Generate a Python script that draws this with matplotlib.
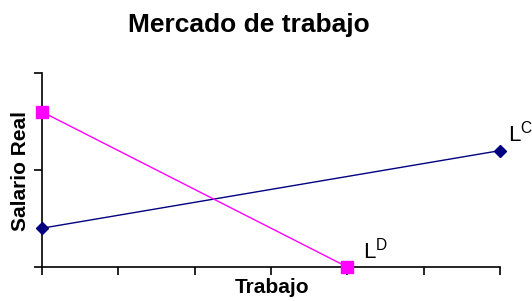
import matplotlib
matplotlib.use("Agg")
import matplotlib.pyplot as plt

plt.rcParams['font.family'] = ['Liberation Sans', 'DejaVu Sans']

oferta_x = [0, 6]
oferta_y = [2, 6]
demanda_x = [0, 4]
demanda_y = [8, 0]
x_ticks = [0, 1, 2, 3, 4, 5, 6]
y_ticks = [0, 5, 10]

fig = plt.figure(figsize=(5.32, 3.01), dpi=100)
ax = fig.add_axes([42/532, 1-267/301, (500-42)/532, (267-73)/301])

ax.plot(oferta_x, oferta_y, color='#000080', lw=1.0, marker='D', ms=6.5, clip_on=False, zorder=3)
ax.plot(demanda_x, demanda_y, color='#FF00FF', lw=1.0, marker='s', ms=8.5, clip_on=False, zorder=4)

ax.set_xlim(0, 6)
ax.set_ylim(0, 10)
ax.set_xticks(x_ticks)
ax.set_yticks(y_ticks)
ax.set_xticklabels([])
ax.set_yticklabels([])
ax.tick_params(direction='out', length=6, width=1.2, color='black')
for s in ['top', 'right']:
    ax.spines[s].set_visible(False)
for s in ['left', 'bottom']:
    ax.spines[s].set_linewidth(1.2)

ax.text(6.1, 6.2, r'$\mathregular{L^C}$', fontsize=16, ha='left', va='bottom', clip_on=False)
ax.text(4.2, 0.2, r'$\mathregular{L^D}$', fontsize=16, ha='left', va='bottom', clip_on=False)

fig.text(249/532, 1-32/301, 'Mercado de trabajo', fontsize=19, fontweight='bold', ha='center', va='baseline')
fig.text(21/532, 1-171/301, 'Salario Real', fontsize=15, fontweight='bold', ha='center', va='center', rotation=90)
fig.text(272/532, 1-293/301, 'Trabajo', fontsize=15, fontweight='bold', ha='center', va='baseline')

fig.savefig('out.png', dpi=100)
